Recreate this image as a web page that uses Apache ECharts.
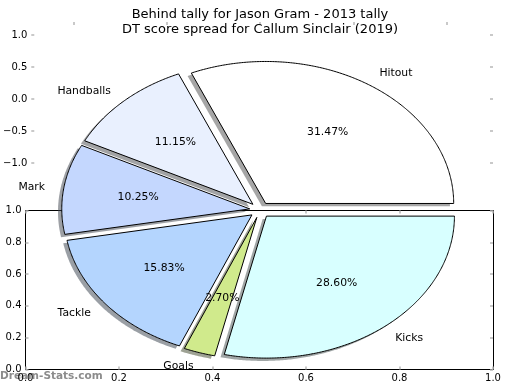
<!DOCTYPE html>
<html><head><meta charset="utf-8">
<script src="https://cdn.jsdelivr.net/npm/echarts@6/dist/echarts.min.js"></script>
<style>html,body{margin:0;padding:0;background:#fff}#c{width:520px;height:390px}</style>
</head><body><div id="c"></div>
<script>
// ---- data ----
const categories = ['Hitout', 'Handballs', 'Mark', 'Tackle', 'Goals', 'Kicks'];
const shares = [31.47, 11.15, 10.25, 15.83, 2.70, 28.60];
const boxTicks = [0.0, 0.2, 0.4, 0.6, 0.8, 1.0];
const pieAxisTicks = [-1.0, -0.5, 0.0, 0.5, 1.0];
const titleLines = ['Behind tally for Jason Gram - 2013 tally', 'DT score spread for Callum Sinclair (2019)'];
const watermark = 'Dream-Stats.com';

// ---- styles ----
const sliceColors = ['#ffffff', '#e9f0fe', '#c4d7fe', '#b4d5fe', '#d0ea8c', '#d8ffff'];
const FONT = 'DejaVu Sans';
const EXPLODE = 0.055, LABEL_D = 1.1, PCT_D = 0.6, SHADOW = -0.02;

const total = shares.reduce((a, b) => a + b, 0);
const cum = [0];
shares.forEach(v => cum.push(cum[cum.length - 1] + v));

function hexToRgb(h) {
  const n = parseInt(h.slice(1), 16);
  return [(n >> 16) & 255, (n >> 8) & 255, n & 255];
}

function wedgePoints(api, i, dx, dy) {
  const a0 = cum[i] / total * 2 * Math.PI;
  const a1 = cum[i + 1] / total * 2 * Math.PI;
  const mid = (a0 + a1) / 2;
  const ox = EXPLODE * Math.cos(mid) + dx, oy = EXPLODE * Math.sin(mid) + dy;
  const pts = [api.coord([ox, oy])];
  const n = Math.max(4, Math.ceil((a1 - a0) / (Math.PI / 360)));
  for (let k = 0; k <= n; k++) {
    const a = a0 + (a1 - a0) * k / n;
    pts.push(api.coord([ox + Math.cos(a), oy + Math.sin(a)]));
  }
  return { pts, mid };
}

function renderShadow(params, api) {
  const i = params.dataIndex;
  const g = wedgePoints(api, i, SHADOW, SHADOW);
  const c = hexToRgb(sliceColors[i]).map(v => Math.round(v * 0.3));
  return { type: 'polygon', shape: { points: g.pts },
    style: { fill: 'rgba(' + c.join(',') + ',0.5)', stroke: null } };
}

function renderWedge(params, api) {
  const i = params.dataIndex;
  const g = wedgePoints(api, i, 0, 0);
  const cm = Math.cos(g.mid), sm = Math.sin(g.mid);
  const lp = api.coord([(EXPLODE + LABEL_D) * cm, (EXPLODE + LABEL_D) * sm]);
  const pp = api.coord([(EXPLODE + PCT_D) * cm, (EXPLODE + PCT_D) * sm]);
  return { type: 'group', children: [
    { type: 'polygon', shape: { points: g.pts },
      style: { fill: sliceColors[i], stroke: '#000', lineWidth: 1 } },
    { type: 'text', z2: 10, x: lp[0], y: lp[1],
      style: { text: categories[i], fill: '#000', font: '10.8px "' + FONT + '"',
        align: cm > 0 ? 'left' : 'right', verticalAlign: 'middle' } },
    { type: 'text', z2: 10, x: pp[0], y: pp[1],
      style: { text: api.value(1).toFixed(2) + '%', fill: '#000', font: '10.8px "' + FONT + '"',
        align: 'center', verticalAlign: 'middle' } }
  ] };
}

const tick = { show: true, inside: true, length: 3, lineStyle: { color: '#b8b8b8', width: 1.5 } };
const blackLine = { show: true, onZero: false, lineStyle: { color: '#000', width: 1 } };
const noLine = { show: false, onZero: false };
const lab = { fontFamily: FONT, fontSize: 10, color: '#000', margin: 4 };
const fmt1 = v => (v < 0 ? '\u2212' : '') + Math.abs(v).toFixed(1);
const bMin = boxTicks[0], bMax = boxTicks[boxTicks.length - 1], bInt = boxTicks[1] - boxTicks[0];
const pMin = pieAxisTicks[0], pMax = pieAxisTicks[pieAxisTicks.length - 1], pInt = pieAxisTicks[1] - pieAxisTicks[0];

const chart = echarts.init(document.getElementById('c'), null, { renderer: 'canvas' });
chart.setOption({
  animation: false,
  backgroundColor: '#fff',
  title: { text: titleLines.join('\n'), left: 'center', top: 2,
    textStyle: { fontFamily: FONT, fontSize: 13, fontWeight: 'normal', color: '#000', lineHeight: 15 } },
  graphic: [{ type: 'text', left: 0, top: 371, z: -1,
    style: { text: watermark, fill: '#8c8c8c', font: 'bold 10.5px "' + FONT + '"' } }],
  grid: [
    { left: 25.5, top: 210.5, width: 467.5, height: 159 },
    { left: 25.5, top: 35, width: 467.5, height: 128 },
    { left: 73.3, top: 22, width: 373.4, height: 100 },
    { left: 72, top: 68, width: 376, height: 284 }
  ],
  xAxis: [
    { type: 'value', gridIndex: 0, position: 'bottom', min: bMin, max: bMax, interval: bInt,
      axisLine: blackLine, axisTick: tick, splitLine: { show: false },
      axisLabel: Object.assign({ formatter: fmt1 }, lab) },
    { type: 'value', gridIndex: 0, position: 'top', min: bMin, max: bMax, interval: bInt,
      axisLine: blackLine, axisTick: tick, splitLine: { show: false }, axisLabel: { show: false } },
    { type: 'value', gridIndex: 1, show: false, min: 0, max: 1 },
    { type: 'value', gridIndex: 2, position: 'top', min: pMin, max: pMax, interval: pInt,
      axisLine: noLine, axisTick: tick, splitLine: { show: false }, axisLabel: { show: false } },
    { type: 'value', gridIndex: 3, show: false, min: -1, max: 1 }
  ],
  yAxis: [
    { type: 'value', gridIndex: 0, position: 'left', min: bMin, max: bMax, interval: bInt,
      axisLine: blackLine, axisTick: tick, splitLine: { show: false },
      axisLabel: Object.assign({ formatter: fmt1 }, lab) },
    { type: 'value', gridIndex: 0, position: 'right', min: bMin, max: bMax, interval: bInt,
      axisLine: blackLine, axisTick: tick, splitLine: { show: false }, axisLabel: { show: false } },
    { type: 'value', gridIndex: 1, position: 'left', min: pMin, max: pMax, interval: pInt,
      axisLine: noLine, axisTick: tick, splitLine: { show: false },
      axisLabel: Object.assign({ formatter: fmt1 }, lab) },
    { type: 'value', gridIndex: 1, position: 'right', min: pMin, max: pMax, interval: pInt,
      axisLine: noLine, axisTick: tick, splitLine: { show: false }, axisLabel: { show: false } },
    { type: 'value', gridIndex: 2, show: false, min: 0, max: 1 },
    { type: 'value', gridIndex: 3, show: false, min: -1, max: 1 }
  ],
  series: [
    { type: 'custom', name: 'shadow', xAxisIndex: 4, yAxisIndex: 5, z: 3, silent: true,
      renderItem: renderShadow, data: shares.map((v, i) => [i, v]), clip: false },
    { type: 'custom', name: 'wedges', xAxisIndex: 4, yAxisIndex: 5, z: 4, silent: true,
      renderItem: renderWedge, data: shares.map((v, i) => [i, v]), clip: false }
  ]
});
</script></body></html>
